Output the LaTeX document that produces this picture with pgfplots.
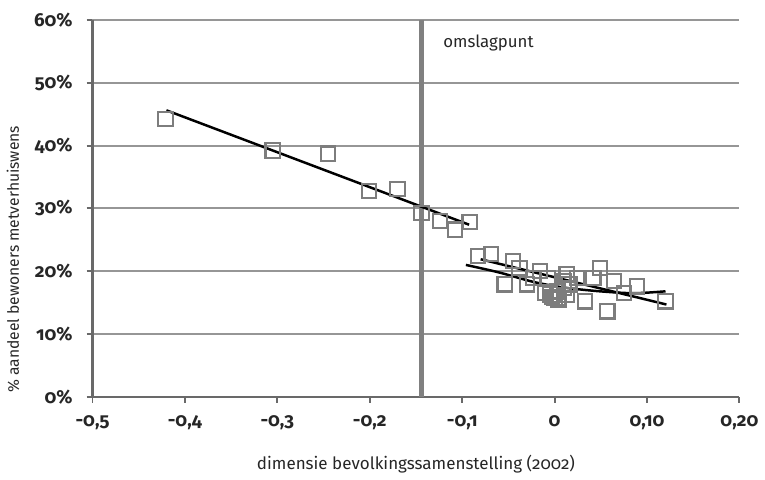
\documentclass[border=0pt]{standalone}
\usepackage{fontspec}
\setmainfont{Fira Sans}[Numbers=OldStyle]
\usepackage{pgfplots}
\usepackage{pgfplotstable}
\pgfplotsset{compat=1.18}

\definecolor{axisgray}{RGB}{105,105,105}
\definecolor{gridgray}{RGB}{150,150,150}
\definecolor{markgray}{RGB}{125,125,125}

% wijken: dimensie bevolkingssamenstelling vs % verhuiswens
\pgfplotstableread{
x y
-0.421 44.2
-0.305 39.2
-0.245 38.7
-0.201 32.8
-0.170 33.1
-0.144 29.3
-0.124 28.0
-0.108 26.6
-0.092 27.8
-0.083 22.4
-0.069 22.7
-0.045 21.6
-0.038 20.5
-0.016 20.0
-0.054 17.9
-0.030 17.9
-0.023 18.9
-0.007 18.9
-0.005 16.3
0.000 15.7
0.004 15.5
0.010 18.4
0.024 18.9
0.042 18.9
0.049 20.5
0.064 18.4
0.075 16.5
0.089 17.6
0.033 15.2
0.057 13.6
0.120 15.2
0.010 17.3
0.016 17.9
0.005 15.7
-0.010 16.5
-0.003 15.9
0.003 16.8
0.013 16.2
0.013 19.5
}\punten

\begin{document}
\begin{tikzpicture}
\begin{axis}[
    scale only axis,
    width=326bp,
    height=190bp,
    xmin=-0.5, xmax=0.2,
    ymin=0, ymax=60,
    xtick={-0.5,-0.4,-0.3,-0.2,-0.1,0,0.1,0.2},
    xticklabels={{-0,5},{-0,4},{-0,3},{-0,2},{-0,1},{0},{0,10},{0,20}},
    ytick={0,10,20,30,40,50,60},
    yticklabels={0\%,10\%,20\%,30\%,40\%,50\%,60\%},
    /pgf/number format/assume math mode=true,
    tick label style={font=\fontsize{9.5}{11}\selectfont\bfseries, text=black!85},
    xticklabel style={yshift=-3bp},
    yticklabel style={xshift=-3.5bp},
    axis x line*=bottom,
    axis y line*=left,
    axis line style={axisgray, line width=1.4bp},
    tick style={axisgray, line width=1bp},
    tick align=outside,
    major tick length=3bp,
    ymajorgrids,
    grid style={gridgray, line width=1bp},
    xlabel={dimensie bevolkingssamenstelling (2002)},
    ylabel={\% aandeel bewoners metverhuiswens},
    xlabel style={at={(axis description cs:0.5,-0.178)}, anchor=center,
        font=\fontsize{8.6}{10}\selectfont, text=black!85},
    ylabel style={at={(axis description cs:-0.123,0.365)}, rotate=0, anchor=center,
        font=\fontsize{7.9}{9.5}\selectfont, text=black!85},
    clip=false,
]
% omslagpunt
\addplot[gridgray!85!black, line width=2.6bp] coordinates {(-0.144,0) (-0.144,60)};
\node[anchor=west, font=\fontsize{8.5}{10}\selectfont, text=black!85] at (axis cs:-0.128,56.3) {omslagpunt};
\addplot[only marks, mark=square, mark size=3.6bp,
    mark options={draw=markgray, line width=1.1bp, fill=none}] table[x=x, y=y] {\punten};
% trendlijnen
\addplot[black, line width=1.25bp] coordinates {(-0.420,45.6) (-0.0925,27.4)};
\addplot[black, line width=1.25bp] coordinates {(-0.080,21.9) (0.121,14.7)};
\addplot[black, line width=1.25bp, smooth] coordinates {
    (-0.096,21.0) (-0.060,19.8) (-0.023,18.3) (0.010,17.4) (0.049,16.8) (0.086,16.5) (0.120,16.8)};
\path (rel axis cs:0,1) ++(0pt,10bp);
\end{axis}
\end{tikzpicture}
\end{document}
